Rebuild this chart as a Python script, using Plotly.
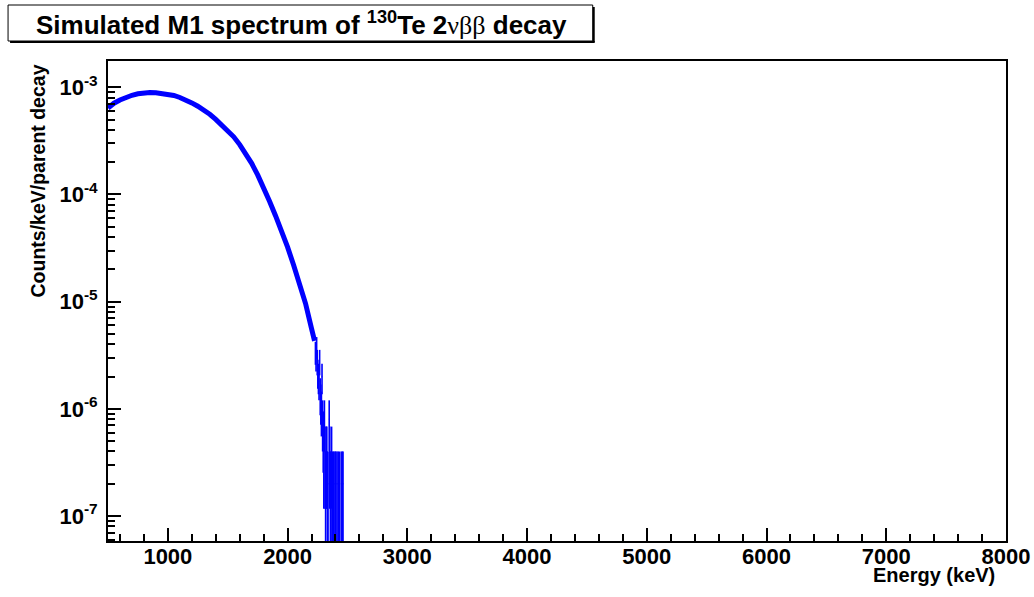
import numpy as np
import plotly.graph_objects as go

# ---- data ----
# smooth part of the spectrum (counts/keV/parent decay)
energy_main = [500, 550, 600, 650, 700, 750, 800, 850, 900, 950, 1000, 1050, 1100,
               1150, 1200, 1250, 1300, 1350, 1400, 1450, 1500, 1550, 1600, 1650,
               1700, 1750, 1800, 1850, 1900, 1950, 2000, 2050, 2100, 2150, 2200, 2225]
rate_main = [6.4e-4, 7.1e-4, 7.6e-4, 8.05e-4, 8.42e-4, 8.7e-4, 8.85e-4, 8.92e-4, 8.9e-4,
             8.8e-4, 8.63e-4, 8.38e-4, 8.03e-4, 7.62e-4, 7.15e-4, 6.65e-4, 6.15e-4,
             5.6e-4, 5.02e-4, 4.47e-4, 3.97e-4, 3.45e-4, 2.92e-4, 2.41e-4, 1.95e-4,
             1.52e-4, 1.16e-4, 8.6e-5, 6.3e-5, 4.55e-5, 3.22e-5, 2.2e-5, 1.5e-5,
             9.6e-6, 5.6e-6, 4.3e-6]

# low-statistics tail: 5 keV bins, raw counts (1 count = 2e-7 counts/keV/decay)
count_scale = 2e-7
bin_width = 5
tail_energy = [2232.5, 2237.5, 2242.5, 2247.5, 2252.5, 2257.5, 2262.5, 2267.5, 2272.5,
               2277.5, 2282.5, 2287.5, 2292.5, 2297.5, 2302.5, 2307.5, 2312.5, 2317.5,
               2322.5, 2327.5, 2332.5, 2337.5, 2342.5, 2347.5, 2352.5, 2357.5, 2362.5,
               2367.5, 2372.5, 2377.5, 2382.5, 2387.5, 2392.5, 2397.5, 2402.5, 2407.5,
               2412.5, 2417.5, 2422.5, 2427.5, 2432.5, 2437.5, 2442.5, 2447.5, 2452.5,
               2457.5, 2462.5]
tail_counts = [17, 15, 19, 14, 11, 10, 9, 14, 7,
               6, 5, 10, 4, 3, 2, 4, 2, 1,
               2, 2, 1, 1, 0, 4, 2, 1, 1,
               2, 1, 0, 1, 1, 0, 1, 1, 0,
               1, 0, 1, 0, 1, 0, 0, 1, 0,
               1, 1]

x_range = [500, 8000]
y_range_log = [-7.233, -2.755]
y_tickvals = [1e-7, 1e-6, 1e-5, 1e-4, 1e-3]
y_ticktext = ["10<sup>-7</sup>", "10<sup>-6</sup>", "10<sup>-5</sup>",
              "10<sup>-4</sup>", "10<sup>-3</sup>"]

BLUE = "#0000ff"
FONT = "Liberation Sans, Arial, sans-serif"

fig = go.Figure()

fig.add_trace(go.Scatter(x=energy_main, y=rate_main, mode="lines",
                         line=dict(color=BLUE, width=5), hoverinfo="skip",
                         showlegend=False))

# error bars of the tail bins (vertical) + bin content markers (horizontal)
sx, sy = [], []
for e, c in zip(tail_energy, tail_counts):
    if c <= 0:
        continue
    v = c * count_scale
    err = np.sqrt(c) * count_scale
    lo = max(v - err, 1e-10)
    sx += [e, e, None]
    sy += [lo, v + err, None]
    sx += [e - bin_width / 2, e + bin_width / 2, None]
    sy += [v, v, None]
fig.add_trace(go.Scatter(x=sx, y=sy, mode="lines", line=dict(color=BLUE, width=1.6),
                         hoverinfo="skip", showlegend=False, connectgaps=False))

fig.update_xaxes(range=x_range, showline=True, linecolor="black", linewidth=2,
                 mirror=True, ticks="inside", ticklen=13, tickwidth=1.5,
                 tickcolor="black", dtick=1000, tick0=0, showgrid=False, zeroline=False,
                 ticklabelstandoff=-5,
                 tickfont=dict(family=FONT, size=22, color="black", weight="bold"),
                 minor=dict(ticks="inside", ticklen=7, tickwidth=1.5, dtick=200,
                            tickcolor="black", showgrid=False))
fig.update_yaxes(type="log", range=y_range_log, showline=True, linecolor="black",
                 linewidth=2, mirror=True, ticks="inside", ticklen=13, tickwidth=1.5,
                 tickcolor="black", tickmode="array", tickvals=y_tickvals,
                 ticktext=y_ticktext, showgrid=False, zeroline=False,
                 ticklabelstandoff=4,
                 tickfont=dict(family=FONT, size=22, color="black", weight="bold"),
                 minor=dict(ticks="inside", ticklen=7, tickwidth=1.5, dtick="D1",
                            tickcolor="black", showgrid=False))

L, R, T, B = 108, 27, 61, 56
W, H = 1042, 597
pw, ph = W - L - R, H - T - B
SX = 1042 / 1034  # horizontal design scale


def px(xp):
    return (xp * SX - L) / pw


def py(yp):
    return (H - B - yp) / ph


shapes = [
    dict(type="rect", xref="paper", yref="paper", x0=px(7), x1=px(593), y0=py(41), y1=py(5),
         line=dict(color="black", width=1), fillcolor="white", layer="above"),
    dict(type="line", xref="paper", yref="paper", x0=px(594), x1=px(594), y0=py(42), y1=py(7),
         line=dict(color="black", width=2)),
    dict(type="line", xref="paper", yref="paper", x0=px(9), x1=px(595), y0=py(42), y1=py(42),
         line=dict(color="black", width=2)),
]

annotations = [
    dict(xref="paper", yref="paper", x=px(301), y=py(24), xanchor="center", yanchor="middle",
         showarrow=False,
         text="Simulated M1 spectrum of <sup>130</sup>Te 2<span style='font-family:Liberation Serif;font-weight:normal'>νββ</span> decay",
         font=dict(family=FONT, size=26, color="black", weight="bold")),
    dict(xref="paper", yref="paper", x=px(998), y=py(575), xanchor="right", yanchor="middle",
         showarrow=False, text="Energy (keV)",
         font=dict(family=FONT, size=20, color="black", weight="bold")),
    dict(xref="paper", yref="paper", x=px(37), y=py(62), xanchor="center", yanchor="top",
         showarrow=False, text="Counts/keV/parent decay", textangle=-90,
         font=dict(family=FONT, size=19.5, color="black", weight="bold")),
]

fig.update_layout(width=W, height=H, margin=dict(l=L, r=R, t=T, b=B, pad=0),
                  autosize=False,
                  paper_bgcolor="white", plot_bgcolor="white", showlegend=False,
                  shapes=shapes, annotations=annotations,
                  font=dict(family=FONT, color="black"))

fig.write_html("out.html",
               config={"displayModeBar": False, "responsive": False},
               post_script="document.body.style.margin='0px';"
                           "document.body.style.overflow='hidden';")
